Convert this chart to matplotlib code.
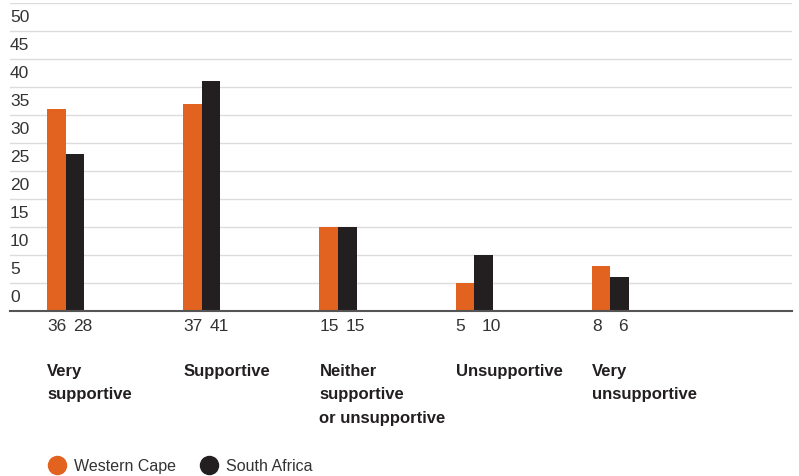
import matplotlib
matplotlib.use("Agg")
import matplotlib.pyplot as plt
from matplotlib.lines import Line2D
import numpy as np

categories = ["Very\nsupportive", "Supportive", "Neither\nsupportive\nor unsupportive",
              "Unsupportive", "Very\nunsupportive"]
western_cape = [36, 37, 15, 5, 8]
south_africa = [28, 41, 15, 10, 6]
series_names = ["Western Cape", "South Africa"]
yticks = list(range(0, 55, 5))

orange = "#E2621F"
dark = "#231F20"

plt.rcParams["font.family"] = ["Liberation Sans Narrow", "Liberation Sans", "DejaVu Sans"]

fig = plt.figure(figsize=(7.99, 4.77), dpi=100)
ax = fig.add_axes([10 / 799, (477 - 311.7) / 477, 782 / 799, 307.7 / 477])

w = 0.1358
x = np.arange(len(categories))
ax.bar(x, western_cape, width=w, align="edge", color=orange, zorder=3)
ax.bar(x + w, south_africa, width=w, align="edge", color=dark, zorder=3)

ax.set_xlim(-0.2716, 5.468)
ax.set_ylim(0, 55)

# gridlines with labels sitting in the band above each line
for v in yticks[1:] + [55]:
    ax.axhline(v, color="#DCDCDC", lw=1.0, zorder=1)
for v in yticks:
    ax.text(0.0, v + 2.5, str(v), transform=ax.get_yaxis_transform(),
            ha="left", va="center", fontsize=12.5, color="#333333")

for s in ["top", "right", "left"]:
    ax.spines[s].set_visible(False)
ax.spines["bottom"].set_color("#555555")
ax.spines["bottom"].set_linewidth(1.5)
ax.spines["bottom"].set_zorder(4)
ax.set_xticks([])
ax.set_yticks([])

# values under each pair, then the category name
for i in range(len(categories)):
    ax.annotate(str(western_cape[i]), xy=(x[i], 0), xytext=(0, -10.5),
                textcoords="offset points", ha="left", va="center",
                fontsize=12.5, color="#333333")
    ax.annotate(str(south_africa[i]), xy=(x[i] + w, 0), xytext=(5.5, -10.5),
                textcoords="offset points", ha="left", va="center",
                fontsize=12.5, color="#333333")
    ax.annotate(categories[i], xy=(x[i], 0), xytext=(0, -37.5),
                textcoords="offset points", ha="left", va="top",
                fontsize=12, fontweight="bold", color=dark, linespacing=1.7,
                annotation_clip=False)

handles = [Line2D([], [], ls="none", marker="o", markersize=13, color=orange),
           Line2D([], [], ls="none", marker="o", markersize=13, color=dark)]
fig.legend(handles, series_names, loc="center left", bbox_to_anchor=(49 / 799, 1 - 467 / 477),
           ncol=2, frameon=False, borderpad=0, borderaxespad=0, handlelength=1.0,
           handletextpad=0.55, columnspacing=1.6, fontsize=11.5,
           labelcolor="#333333")

fig.savefig("out.png", dpi=100)
